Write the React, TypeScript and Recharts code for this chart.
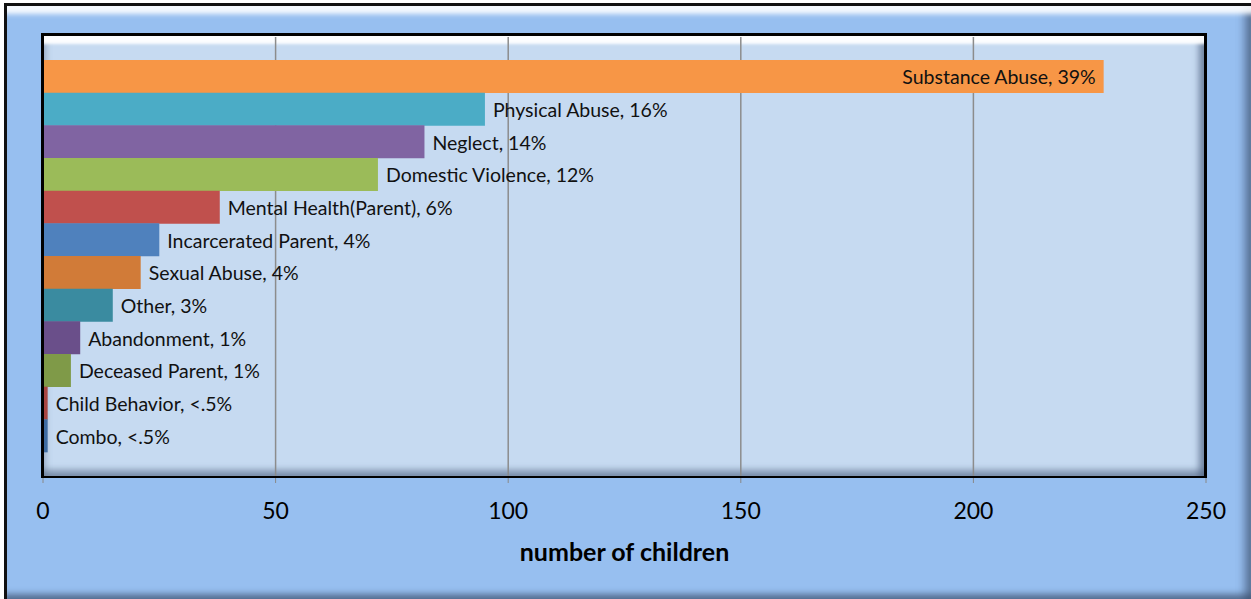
import { BarChart, Bar, XAxis, YAxis, CartesianGrid, Cell, LabelList } from "recharts";

const categories = [
  "Substance Abuse", "Physical Abuse", "Neglect", "Domestic Violence",
  "Mental Health(Parent)", "Incarcerated Parent", "Sexual Abuse", "Other",
  "Abandonment", "Deceased Parent", "Child Behavior", "Combo",
];
const children = [228, 95, 82, 72, 38, 25, 21, 15, 8, 6, 1, 1];
const shares = ["39%", "16%", "14%", "12%", "6%", "4%", "4%", "3%", "1%", "1%", "<.5%", "<.5%"];
const xTicks = [0, 50, 100, 150, 200, 250];
const X_MAX = 250;

const BAR_COLORS = [
  "#F79646", "#4BACC6", "#8064A2", "#9BBB59", "#C0504D", "#4F81BD",
  "#D17B38", "#3A8BA0", "#6A4F8A", "#7F9A48", "#A84541", "#3E6BA0",
];

const FONT = "Lato, 'Open Sans', sans-serif";

const data = categories.map((name, i) => ({
  name,
  value: children[i],
  label: `${name}, ${shares[i]}`,
}));

const BarLabel = (props: any) => {
  const { x, y, width, height, value, index } = props;
  const inside = index === 0;
  return (
    <text
      x={inside ? x + width - 8 : x + width + 8}
      y={y + height / 2 + 1}
      dy="0.35em"
      textAnchor={inside ? "end" : "start"}
      fontFamily={FONT}
      fontSize={19.5}
      fill="#111"
    >
      {value}
    </text>
  );
};

export default function App() {
  return (
    <div style={{ position: "absolute", left: 0, top: 0, width: 1251, height: 599, overflow: "hidden", fontFamily: FONT }}>
      {/* outer frame */}
      <div
        style={{
          position: "absolute", left: 4, top: 3, width: 1247, height: 596,
          boxSizing: "border-box",
          borderLeft: "3px solid #111", borderTop: "3px solid #111",
          background: "#97BFF0",
          boxShadow:
            "inset 0 12px 5px -4px rgba(255,255,255,0.9), inset -12px 0 8px -6px rgba(60,80,110,0.7), inset 0 -10px 6px -5px rgba(60,80,110,0.7)",
        }}
      />
      {/* plot background */}
      <div
        style={{
          position: "absolute", left: 44, top: 36, width: 1160, height: 441,
          background: "#C6DAF1",
          boxShadow:
            "inset 0 12px 3px -4px rgba(255,255,255,0.95), inset 6px 0 6px -4px rgba(90,110,140,0.45), inset -10px 0 6px -5px rgba(80,100,130,0.7), inset 0 -12px 6px -5px rgba(80,100,130,0.6)",
        }}
      />
      <div style={{ position: "absolute", left: 0, top: 0 }}>
        <BarChart
          width={1251}
          height={599}
          data={data}
          layout="vertical"
          margin={{ top: 37, right: 45, bottom: 0, left: 43 }}
          barCategoryGap={0}
        >
          <CartesianGrid
            horizontal={false}
            stroke="#8c8c8c"
            strokeWidth={1.5}
            verticalCoordinatesGenerator={({ offset }: any) =>
              xTicks.slice(1, -1).map((t) => offset.left + (offset.width * t) / X_MAX)
            }
          />
          <XAxis
            type="number"
            domain={[0, X_MAX]}
            ticks={xTicks}
            interval={0}
            height={122}
            tickSize={6}
            tickMargin={20}
            tickLine={{ stroke: "#888" }}
            axisLine={{ stroke: "#888", strokeWidth: 1.5 }}
            tick={{ fill: "#000", fontSize: 23, fontFamily: FONT }}
            label={{
              value: "number of children",
              position: "insideBottom",
              offset: 38,
              style: { fill: "#000", fontSize: 25, fontWeight: 700, fontFamily: FONT },
            }}
          />
          <YAxis type="category" dataKey="name" hide padding={{ top: 23, bottom: 25 }} />
          <Bar dataKey="value" isAnimationActive={false}>
            {data.map((_, i) => (
              <Cell key={i} fill={BAR_COLORS[i]} />
            ))}
            <LabelList dataKey="label" content={BarLabel} />
          </Bar>
        </BarChart>
      </div>
      {/* plot border */}
      <div
        style={{
          position: "absolute", left: 41, top: 33, width: 1166, height: 445,
          boxSizing: "border-box", border: "3px solid #000", borderBottomWidth: 2,
          pointerEvents: "none",
        }}
      />
    </div>
  );
}
